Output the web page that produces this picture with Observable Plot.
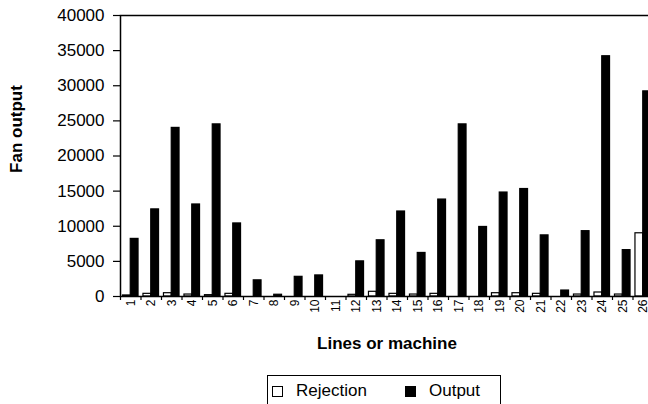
<!DOCTYPE html>
<html>
<head>
<meta charset="utf-8">
<script src="https://cdn.jsdelivr.net/npm/d3@7"></script>
<script src="https://cdn.jsdelivr.net/npm/@observablehq/plot@0.6"></script>
<style>
  html, body { margin: 0; padding: 0; background: white; overflow: hidden; width: 648px; height: 404px; }
  #chart { width: 648px; overflow: hidden; }
  #chart svg { max-width: none; overflow: hidden; }
  .legend { position: absolute; left: 267px; top: 375px; width: 232px; height: 40px; border: 1.5px solid #000; border-bottom: none;
    font-family: "Liberation Sans", Arial, sans-serif; font-size: 17px; color: #000; }
  .legend .item { position: absolute; top: 5px; display: flex; align-items: center; }
  .legend .sw { width: 9px; height: 9px; border: 1.5px solid #000; margin-right: 13px; }
</style>
</head>
<body>
<div id="chart"></div>
<div class="legend">
  <div class="item" style="left:4px"><span class="sw" style="background:#fff"></span><span>Rejection</span></div>
  <div class="item" style="left:137px"><span class="sw" style="background:#000"></span><span>Output</span></div>
</div>
<script>
const lines = d3.range(1, 27);
const rejection = [150, 380, 470, 280, 190, 380, 0, 0, 0, 0, 0, 240, 670, 380, 280, 380, 0, 0, 470, 470, 380, 0, 280, 570, 280, 9000];
const output = [8200, 12400, 24000, 13100, 24500, 10400, 2300, 250, 2800, 3000, 0, 5000, 8000, 12100, 6200, 13800, 24500, 9900, 14800, 15300, 8700, 850, 9300, 34200, 6600, 29200];
const yTicks = d3.range(0, 40001, 5000);

const data = [];
lines.forEach((l, i) => {
  data.push({line: l, series: "Rejection", value: rejection[i]});
  data.push({line: l, series: "Output", value: output[i]});
});
const half = 0.38;

const plot = Plot.plot({
  width: 648,
  height: 372,
  marginLeft: 120,
  marginRight: -5,
  marginTop: 15,
  marginBottom: 76,
  style: {fontFamily: "'Liberation Sans', Arial, sans-serif", color: "#000", background: "white"},
  x: {type: "linear", domain: [0.5, 26.5]},
  y: {domain: [0, 40000]},
  marks: [
    Plot.rectY(data, {
      x1: d => d.series === "Rejection" ? d.line - half : d.line,
      x2: d => d.series === "Rejection" ? d.line : d.line + half,
      y: "value",
      fill: d => d.series === "Rejection" ? "white" : "black",
      stroke: "black",
      strokeWidth: 1.2,
      filter: d => d.value > 0
    }),
    Plot.axisY({ticks: yTicks, tickSize: 7, tickPadding: 9, fontSize: 17, tickFormat: d => String(d), label: null, strokeWidth: 1.2}),
    Plot.text(["Fan output"], {frameAnchor: "left", textAnchor: "middle", dx: -104, dy: -27, rotate: -90, fontSize: 17, fontWeight: "bold"}),
    Plot.axisX({ticks: d3.range(0.5, 27, 1), tickSize: 4, tickFormat: () => "", label: null, strokeWidth: 1.2}),
    Plot.axisX({ticks: lines, tickSize: 0, tickPadding: 3, tickRotate: -90, fontSize: 12, tickFormat: d => String(d), label: null}),
    Plot.text(["Lines or machine"], {frameAnchor: "bottom", dy: 52, fontSize: 17, fontWeight: "bold"}),
    Plot.frame({stroke: "black", strokeWidth: 1.5})
  ]
});
document.getElementById("chart").appendChild(plot);
</script>
</body>
</html>
